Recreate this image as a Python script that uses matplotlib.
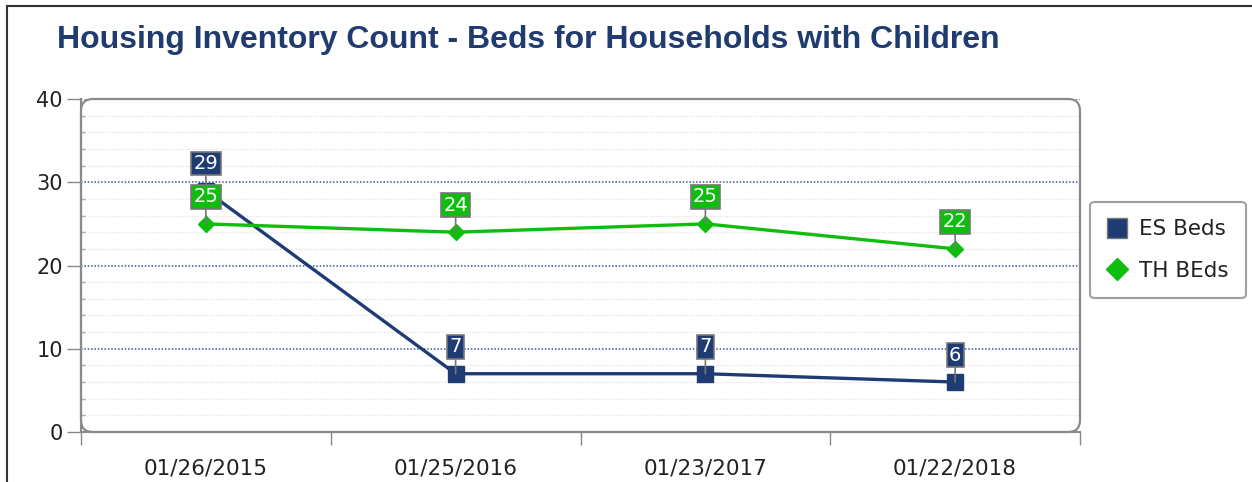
import matplotlib
matplotlib.use("Agg")
import matplotlib.pyplot as plt
from matplotlib.patches import FancyBboxPatch
from matplotlib.lines import Line2D
from matplotlib.transforms import IdentityTransform
from matplotlib.ticker import MultipleLocator

# ---- data ----
categories = ["01/26/2015", "01/25/2016", "01/23/2017", "01/22/2018"]
es_beds = [29, 7, 7, 6]
th_beds = [25, 24, 25, 22]
series_names = ["ES Beds", "TH BEds"]
title = "Housing Inventory Count - Beds for Households with Children"

NAVY = "#1F3B73"
GREEN = "#0FBD0F"
W, H = 1252, 482
DPI = 100

fig = plt.figure(figsize=(W / DPI, H / DPI), dpi=DPI)
fig.patch.set_facecolor("white")

L, R, T, B = 81, 1080, 99, 432
ax = fig.add_axes([L / W, 1 - B / H, (R - L) / W, (B - T) / H])
ax.set_facecolor("white")

x = list(range(len(categories)))

ax.set_xlim(-0.5, len(categories) - 0.5)
ax.set_ylim(0, 40)

# gridlines
ax.yaxis.set_major_locator(MultipleLocator(10))
ax.yaxis.set_minor_locator(MultipleLocator(2))
ax.grid(which="major", axis="y", color="#3A5596", linestyle=(0, (1, 1.2)), linewidth=1.1)
ax.grid(which="minor", axis="y", color="#E4E4E4", linestyle=(0, (1, 1.2)), linewidth=1.0)
ax.set_axisbelow(True)

# x ticks between categories
ax.set_xticks([i - 0.5 for i in range(len(categories) + 1)])
ax.set_xticklabels([])
ax.set_xticks(x, minor=True)
ax.set_xticklabels(categories, minor=True, fontsize=15.5, color="#222222",
                   fontfamily="DejaVu Sans")
ax.tick_params(axis="x", which="major", length=9, color="#888888", width=1)
ax.tick_params(axis="x", which="minor", length=0, pad=19)
ax.tick_params(axis="y", which="major", length=10, color="#888888", width=1,
               labelsize=15, labelcolor="#222222", pad=3)
ax.tick_params(axis="y", which="minor", length=3, color="#AAAAAA", width=1, direction="in")
for lab in ax.get_yticklabels():
    lab.set_fontfamily("DejaVu Sans")

for s in ["top", "right"]:
    ax.spines[s].set_visible(False)
for s in ["left", "bottom"]:
    ax.spines[s].set_color("#888888")
    ax.spines[s].set_linewidth(1.5)

# lines
ax.plot(x, es_beds, color=NAVY, linewidth=2.4, marker="s", markersize=11,
        markerfacecolor=NAVY, markeredgecolor=NAVY, zorder=3, label=series_names[0])
ax.plot(x, th_beds, color=GREEN, linewidth=2.4, marker="D", markersize=8,
        markerfacecolor=GREEN, markeredgecolor=GREEN, zorder=3, label=series_names[1])

# data labels
def add_labels(vals, color):
    for xi, v in zip(x, vals):
        ax.annotate(str(v), xy=(xi, v), xytext=(0, 27), textcoords="offset pixels",
                    ha="center", va="center", fontsize=14, color="white",
                    fontfamily="DejaVu Sans", zorder=5,
                    bbox=dict(boxstyle="square,pad=0.12", facecolor=color,
                              edgecolor="#777777", linewidth=1.2),
                    arrowprops=dict(arrowstyle="-", color="#777777", linewidth=1.2,
                                    shrinkA=0, shrinkB=0))

add_labels(es_beds, NAVY)
add_labels(th_beds, GREEN)

# rounded plot border (pixel coords; origin bottom-left)
border = FancyBboxPatch((L, H - B), R - L, B - T,
                        boxstyle="round,pad=0,rounding_size=12",
                        transform=IdentityTransform(), facecolor="none",
                        edgecolor="#8A8A8A", linewidth=1.6, zorder=10)
fig.add_artist(border)

# legend
leg = fig.legend(loc="center", bbox_to_anchor=(1168 / W, 1 - 250 / H),
                 frameon=True, fancybox=True,
                 prop={"family": "DejaVu Sans", "size": 15.5},
                 handlelength=0.9, handletextpad=0.55, labelspacing=1.0,
                 borderpad=0.8, borderaxespad=0)
for h in leg.legend_handles:
    h.set_linestyle("none")
leg.legend_handles[0].set_markersize(14)
leg.legend_handles[0].set_markeredgecolor("#777777")
leg.legend_handles[1].set_markersize(11)
leg.get_frame().set_edgecolor("#888888")
leg.get_frame().set_linewidth(1.5)
for t in leg.get_texts():
    t.set_color("#222222")

# title
fig.text(57 / W, 1 - 40 / H, title, ha="left", va="center", fontsize=23,
         fontweight="bold", color="#1F3B70", fontfamily="Liberation Sans")

# figure border on left and top
fig.add_artist(Line2D([7 / W, 7 / W], [0, 1 - 6 / H], transform=fig.transFigure,
                      color="#333333", linewidth=1.5))
fig.add_artist(Line2D([7 / W, 1], [1 - 6 / H, 1 - 6 / H], transform=fig.transFigure,
                      color="#333333", linewidth=1.5))

fig.savefig("out.png", dpi=DPI, facecolor="white")
